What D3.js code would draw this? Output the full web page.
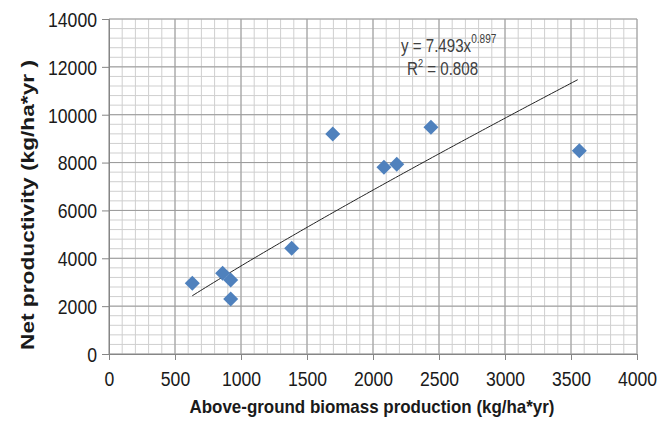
<!DOCTYPE html>
<html>
<head>
<meta charset="utf-8">
<script src="https://cdn.jsdelivr.net/npm/d3@7"></script>
<style>
  body { margin: 0; background: #fff; }
  svg { display: block; }
</style>
</head>
<body>
<div id="chart"></div>
<script>
// data
var biomass = [631, 861, 922, 922, 1384, 1695, 2083, 2180, 2439, 3563];
var productivity = [2955, 3372, 3092, 2298, 4417, 9194, 7802, 7928, 9474, 8496];
var xTicks = [0, 500, 1000, 1500, 2000, 2500, 3000, 3500, 4000];
var yTicks = [0, 2000, 4000, 6000, 8000, 10000, 12000, 14000];
// power trend line shown on the chart: y = a * x^b
var trendA = 7.493;
var trendB = 0.897;
var rSquared = "0.808";

var W = 668, H = 425;
var font = "'Liberation Sans', Arial, sans-serif";
var squeeze = 0.84; // the original font is narrower than Liberation Sans

var svg = d3.select("#chart").append("svg")
  .attr("width", W)
  .attr("height", H);

var x = d3.scaleLinear().domain([0, 4000]).range([109, 637]);
var y = d3.scaleLinear().domain([0, 14000]).range([354, 19]);

// minor grid
svg.selectAll(".minor-x")
  .data(d3.range(0, 4001, 100))
  .enter().append("line")
  .attr("x1", d => x(d)).attr("x2", d => x(d))
  .attr("y1", y(0)).attr("y2", y(14000))
  .attr("stroke", "#cfcfcf").attr("stroke-width", 1);

svg.selectAll(".minor-y")
  .data(d3.range(0, 14001, 400))
  .enter().append("line")
  .attr("x1", x(0)).attr("x2", x(4000))
  .attr("y1", d => y(d)).attr("y2", d => y(d))
  .attr("stroke", "#cfcfcf").attr("stroke-width", 1);

// major grid
svg.selectAll(".major-x")
  .data(xTicks)
  .enter().append("line")
  .attr("x1", d => x(d)).attr("x2", d => x(d))
  .attr("y1", y(0)).attr("y2", y(14000))
  .attr("stroke", "#9a9a9a").attr("stroke-width", 1);

svg.selectAll(".major-y")
  .data(yTicks)
  .enter().append("line")
  .attr("x1", x(0)).attr("x2", x(4000))
  .attr("y1", d => y(d)).attr("y2", d => y(d))
  .attr("stroke", "#9a9a9a").attr("stroke-width", 1);

// axes
var xAxis = svg.append("g")
  .attr("transform", "translate(0," + y(0) + ")")
  .call(d3.axisBottom(x).tickValues(xTicks).tickSize(6).tickPadding(11).tickFormat(d3.format("d")));

var yAxis = svg.append("g")
  .attr("transform", "translate(" + x(0) + ",0)")
  .call(d3.axisLeft(y).tickValues(yTicks).tickSize(7).tickPadding(5).tickFormat(d3.format("d")));

[xAxis, yAxis].forEach(function(g) {
  g.select(".domain").attr("stroke", "#868686");
  g.selectAll(".tick line").attr("stroke", "#868686");
  g.selectAll(".tick text")
    .attr("fill", "#1a1a1a")
    .attr("transform", "scale(" + squeeze + ",1)")
    .style("font-family", font)
    .style("font-size", "21px");
});
yAxis.selectAll(".tick text").attr("dy", "0.35em").attr("x", -12 / squeeze);

// trend line
var xs = d3.range(d3.min(biomass), d3.max(biomass) + 1, 20);
var line = d3.line()
  .x(d => x(d))
  .y(d => y(trendA * Math.pow(d, trendB)));
svg.append("path")
  .datum(xs)
  .attr("d", line)
  .attr("fill", "none")
  .attr("stroke", "#222")
  .attr("stroke-width", 1);

// points
var diamond = d3.symbol().type(d3.symbolSquare).size(113);
svg.selectAll(".pt")
  .data(biomass)
  .enter().append("path")
  .attr("d", diamond)
  .attr("transform", (d, i) => "translate(" + x(d) + "," + y(productivity[i]) + ") rotate(45)")
  .attr("fill", "#4f81bd");

// equation
var eq = svg.append("text")
  .attr("transform", "translate(401,52) scale(" + squeeze + ",1)")
  .attr("fill", "#404040")
  .style("font-family", font)
  .style("font-size", "18px");
eq.append("tspan").text("y = " + trendA + "x");
eq.append("tspan").attr("dy", -9).style("font-size", "12px").text(trendB);

var r2 = svg.append("text")
  .attr("transform", "translate(407,75) scale(" + squeeze + ",1)")
  .attr("fill", "#404040")
  .style("font-family", font)
  .style("font-size", "18px");
r2.append("tspan").text("R");
r2.append("tspan").attr("dy", -8).style("font-size", "11px").text("2");
r2.append("tspan").attr("dy", 8).text(" = " + rSquared);

// axis titles
svg.append("text")
  .attr("x", 372).attr("y", 413)
  .attr("text-anchor", "middle")
  .attr("textLength", 365)
  .attr("lengthAdjust", "spacingAndGlyphs")
  .attr("fill", "#1a1a1a")
  .style("font-family", font)
  .style("font-weight", "bold")
  .style("font-size", "19px")
  .text("Above-ground biomass production (kg/ha*yr)");

svg.append("text")
  .attr("transform", "translate(34,205) rotate(-90)")
  .attr("text-anchor", "middle")
  .attr("textLength", 290)
  .attr("lengthAdjust", "spacingAndGlyphs")
  .attr("fill", "#1a1a1a")
  .style("font-family", font)
  .style("font-weight", "bold")
  .style("font-size", "19px")
  .text("Net productivity (kg/ha*yr )");
</script>
</body>
</html>
